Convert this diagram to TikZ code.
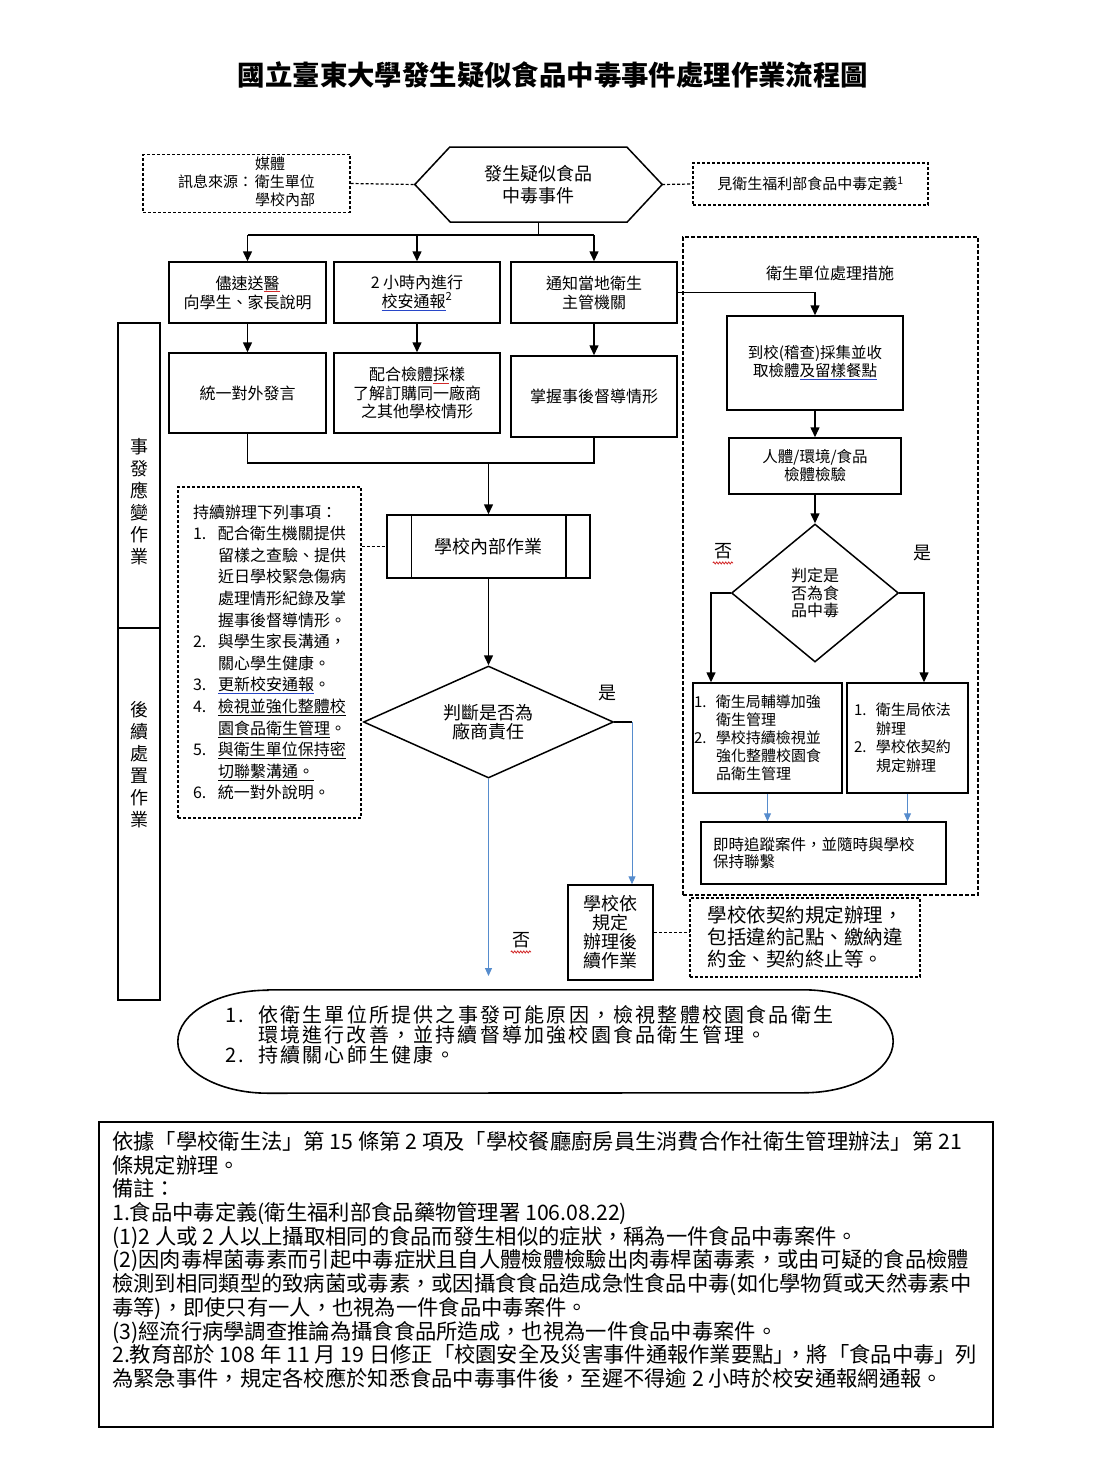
\documentclass[tikz,border=0pt]{standalone}
\usepackage{fontspec}
\setmainfont{Noto Sans CJK TC}
\usetikzlibrary{arrows.meta,shapes.geometric,calc,decorations.pathmorphing}
\definecolor{lblue}{RGB}{86,140,205}
\definecolor{ulblue}{RGB}{40,70,200}
\definecolor{ulred}{RGB}{210,40,40}
\newcommand\fs[2]{\fontsize{#1}{#2}\selectfont}
\newcommand\bul[1]{\textcolor{ulblue}{\underline{\textcolor{black}{#1}}}}
\newcommand\rul[1]{\textcolor{ulred}{\underline{\textcolor{black}{#1}}}}
\newcommand\nm[2][25pt]{\makebox[#1][l]{#2}}
\newcommand\ii[1][25pt]{\hspace*{#1}}
\tikzset{
  box/.style={draw, line width=1.5pt, inner sep=2pt, align=center},
  dbox/.style={draw, line width=1.2pt, dash pattern=on 3pt off 2pt, inner sep=2pt},
  arr/.style={line width=1.5pt, -{Triangle[length=10pt,width=9pt]}},
  ln/.style={line width=1.5pt},
  dln/.style={line width=1.2pt, dash pattern=on 3pt off 2pt},
  barr/.style={line width=1pt, draw=lblue, -{Triangle[length=8pt,width=7pt,fill=lblue]}},
  lbl/.style={font=\fs{18}{20}, inner sep=0},
  wavy/.style={draw=ulred, line width=0.8pt, decorate, decoration={snake, amplitude=1pt, segment length=3pt}}
}
\begin{document}
\begin{tikzpicture}[x=1pt,y=-1pt]
\useasboundingbox[fill=white] (0,0) rectangle (1112,1473);

% title
\node[font=\fs{27.4}{30}\bfseries, inner sep=0] (title) at (553,75) {國立臺東大學發生疑似食品中毒事件處理作業流程圖};

% top row
\node[inner sep=0, minimum width=247, minimum height=75, align=center, font=\fs{18}{22}] (hex) at (538.5,184.5) {發生疑似食品\\中毒事件};
\draw[ln] (hex.west) -- ++(35,-37.5) -- ++(177,0) -- (hex.east) -- ++(-35,37.5) -- ++(-177,0) -- cycle;
\node[dbox, minimum width=207, minimum height=57, font=\fs{15}{17.5}] (src) at (246.5,183.5)
  {\begin{tabular}{@{}l@{\hspace{2pt}}l@{}} & 媒體\\ 訊息來源： & 衛生單位\\ & 學校內部\end{tabular}};
\node[dbox, minimum width=235, minimum height=42, font=\fs{15}{17}] (def) at (810.5,184) {見衛生福利部食品中毒定義\textsuperscript{1}};
\draw[dln] (src.east) -- (hex.west);
\draw[dln] (hex.east) -- (def.west);

% first row of boxes
\node[box, minimum width=157, minimum height=61, font=\fs{16}{19}] (a1) at (247.5,292.5) {儘速送\rul{醫}\\向學生、家長說明};
\node[box, minimum width=166, minimum height=61, font=\fs{16}{19}] (a2) at (417,292.5) {2 小時內進行\\\bul{校安通報}\textsuperscript{2}};
\node[box, minimum width=166, minimum height=61, font=\fs{16}{19}] (a3) at (594,292.5) {通知當地衛生\\主管機關};
\coordinate (fan) at (538.5,235);
\draw[ln] (hex.south) -- (fan);
\draw[ln] (a1.north |- fan) -- (a3.north |- fan);
\draw[arr] (a1.north |- fan) -- (a1.north);
\draw[arr] (a2.north |- fan) -- (a2.north);
\draw[arr] (a3.north |- fan) -- (a3.north);

% second row
\node[box, minimum width=157, minimum height=80, font=\fs{16}{19}] (b1) at (247.5,393) {統一對外發言};
\node[box, minimum width=166, minimum height=80, font=\fs{16}{18.5}] (b2) at (417,393) {配合檢體\rul{採}樣\\了解訂購同一廠商\\之其他學校情形};
\node[box, minimum width=166, minimum height=81, font=\fs{16}{19}] (b3) at (594,396.5) {掌握事後督導情形};
\draw[arr] (a1) -- (b1);
\draw[arr] (a2) -- (b2);
\draw[arr] (a3) -- (b3);

% left column
\node[draw, line width=1.5pt, minimum width=42, minimum height=305, inner sep=0] (col1) at (139,475.5) {};
\node[draw, line width=1.5pt, minimum width=42, minimum height=372, inner sep=0] (col2) at (139,814) {};
\node[font=\fs{18}{22}, align=center, inner sep=0] (col1t) at (col1.center |- 0,502) {事\\發\\應\\變\\作\\業};
\node[font=\fs{18}{22}, align=center, inner sep=0] (col2t) at (col2.center |- 0,765) {後\\續\\處\\置\\作\\業};

% school internal
\node[box, minimum width=203, minimum height=63, font=\fs{18}{20}] (sch) at (488.5,546.5) {學校內部作業};
\draw[ln] ($(sch.north west)+(25,0)$) -- ($(sch.south west)+(25,0)$);
\draw[ln] ($(sch.north east)+(-25,0)$) -- ($(sch.south east)+(-25,0)$);
\coordinate (m) at (488.5,463);
\draw[ln] (b1.south) -- (b1.south |- m) -- (b3.south |- m) -- (b3.south);
\draw[arr] (m) -- (sch.north);

% dashed list
\node[dbox, minimum width=183, minimum height=331, align=left, font=\fs{16}{21.6}] (dli) at (269.5,652.5) {%
持續辦理下列事項：\\
\nm{1.}配合衛生機關提供\\
\ii 留樣之查驗、提供\\
\ii 近日學校緊急傷病\\
\ii 處理情形紀錄及掌\\
\ii 握事後督導情形。\\
\nm{2.}與學生家長溝通，\\
\ii 關心學生健康。\\
\nm{3.}\bul{更新校安通報}。\\
\nm{4.}\underline{檢視並強化整體校}\\
\ii \underline{園食品衛生管理}。\\
\nm{5.}\underline{與衛生單位保持密}\\
\ii \underline{切聯繫溝通。}\\
\nm{6.}統一對外說明。};
\draw[dln] (dli.east |- sch.west) -- (sch.west);

% decision 1
\node[draw, diamond, line width=1.5pt, aspect=2.23, minimum width=250, minimum height=112, inner sep=0, align=center, font=\fs{18}{19}] (dia1) at (488.5,722) {判斷是否為\\廠商責任};
\draw[arr] (sch.south) -- (dia1.north);
\node[lbl] (yes1) at (607,693) {是};
\coordinate (yb) at (632,722);
\draw[ln] (dia1.east) -- (yb);

\node[box, minimum width=85, minimum height=95, font=\fs{18}{19}] (fol) at (610.5,932.5) {學校依\\規定\\辦理後\\續作業};
\draw[barr] (yb) -- (yb |- fol.north);
\node[dbox, minimum width=230, minimum height=79, align=left, font=\fs{19.5}{22}] (cdb) at (805,937.5) {學校依契約規定辦理，\\包括違約記點、繳納違\\約金、契約終止等。};
\draw[dln] (fol.east) -- (fol.east -| cdb.west);

\coordinate (nb) at (488.5,976);
\draw[barr] (dia1.south) -- (nb);
\node[lbl] (no1) at (521,940) {否};
\draw[wavy] ($(no1.south west)+(-1,4)$) -- ($(no1.south east)+(1,4)$);

% health unit dashed frame
\node[draw, line width=1.8pt, dash pattern=on 4pt off 2pt, minimum width=295, minimum height=658, inner sep=0] (rbox) at (830.5,566) {};
\node[font=\fs{16}{18}, inner sep=0] (rtitle) at (830,273) {衛生單位處理措施};
\node[box, minimum width=176, minimum height=94, font=\fs{15.5}{18}] (c1) at (815,363) {到校(稽查)採集並收\\取檢體\bul{及留樣餐點}};
\node[box, minimum width=172, minimum height=56, font=\fs{15.5}{18}] (c2) at (815,466) {人體/環境/食品\\檢體檢驗};
\draw[arr] (a3.east) -| (c1.north);
\draw[arr] (c1) -- (c2);
\node[draw, diamond, line width=1.5pt, aspect=1.21, minimum width=167, minimum height=138, inner sep=0, align=center, font=\fs{16}{17.5}] (dia2) at (815,593) {判定是\\否為食\\品中毒};
\draw[arr] (c2) -- (dia2);
\node[lbl] (no2) at (723,551) {否};
\draw[wavy] ($(no2.south west)+(-1,4)$) -- ($(no2.south east)+(1,4)$);
\node[lbl] (yes2) at (922,553) {是};

\node[box, minimum width=149, minimum height=110, align=left, text width=147, inner xsep=1, font=\fs{15}{18}] (d1) at (767.5,738) {%
\nm[22pt]{1.}衛生局輔導加強\\ \ii[22pt]衛生管理\\ \nm[22pt]{2.}學校持續檢視並\\ \ii[22pt]強化整體校園食\\ \ii[22pt]品衛生管理};
\node[box, minimum width=121, minimum height=110, align=left, text width=107, inner xsep=7, font=\fs{15}{18.5}] (d2) at (907.5,738) {%
\nm[22pt]{1.}衛生局依法\\ \ii[22pt]辦理\\ \nm[22pt]{2.}學校依契約\\ \ii[22pt]規定辦理};
\coordinate (l2) at (711,593);
\coordinate (r2) at (924,593);
\draw[arr] (dia2.west) -- (l2) -- (l2 |- d1.north);
\draw[arr] (dia2.east) -- (r2) -- (r2 |- d2.north);

\node[box, minimum width=245, minimum height=62, align=left, text width=221, inner xsep=12, font=\fs{15.5}{17.5}] (e) at (823.5,853) {即時追蹤案件，並隨時與學校\\保持聯繫};
\draw[barr] (d1.south) -- (d1.south |- e.north);
\draw[barr] (d2.south) -- (d2.south |- e.north);

% closing rounded shape
\node[minimum width=715, minimum height=103, inner sep=0] (ell) at (535.5,1041.5) {};
\draw[line width=1.6pt] ($(ell.north west)+(90,0)$) -- ($(ell.north east)+(-90,0)$)
  arc[start angle=90, end angle=-90, x radius=90pt, y radius=51.5pt]
  -- ($(ell.south west)+(90,0)$)
  arc[start angle=270, end angle=90, x radius=90pt, y radius=51.5pt] -- cycle;
\node[anchor=west, align=left, inner sep=0, font=\fs{20}{20}\addfontfeatures{LetterSpace=11}] (elltext) at (225,1035) {%
\nm[33pt]{1.}依衛生單位所提供之事發可能原因，檢視整體校園食品衛生\\
\ii[33pt]環境進行改善，並持續督導加強校園食品衛生管理。\\
\nm[33pt]{2.}持續關心師生健康。};

% notes
\node[draw, line width=1.5pt, minimum width=894, minimum height=305, inner sep=0] (notes) at (546,1274.5) {};
\node[anchor=north west, align=left, inner sep=0, font=\fs{21.3}{23.7}] (ntext) at (112,1131) {%
依據「學校衛生法」第 15 條第 2 項及「學校餐廳廚房員生消費合作社衛生管理辦法」第 21\\
條規定辦理。\\
備註：\\
1.食品中毒定義(衛生福利部食品藥物管理署 106.08.22)\\
(1)2 人或 2 人以上攝取相同的食品而發生相似的症狀，稱為一件食品中毒案件。\\
(2)因肉毒桿菌毒素而引起中毒症狀且自人體檢體檢驗出肉毒桿菌毒素，或由可疑的食品檢體\\
檢測到相同類型的致病菌或毒素，或因攝食食品造成急性食品中毒(如化學物質或天然毒素中\\
毒等)，即使只有一人，也視為一件食品中毒案件。\\
(3)經流行病學調查推論為攝食食品所造成，也視為一件食品中毒案件。\\
2.教育部於 108 年 11 月 19 日修正「校園安全及災害事件通報作業要點」\kern-0.45em，將「食品中毒」列\\
為緊急事件，規定各校應於知悉食品中毒事件後，至遲不得逾 2 小時於校安通報網通報。};
\end{tikzpicture}
\end{document}
